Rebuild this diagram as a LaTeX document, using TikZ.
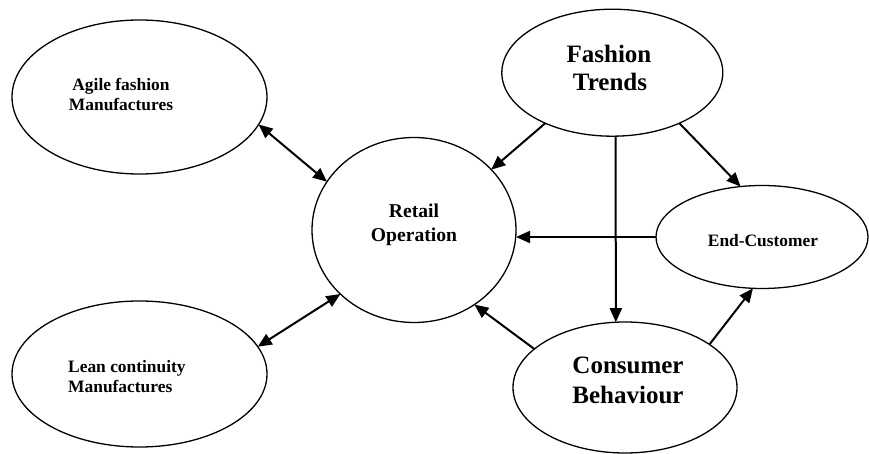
\documentclass[tikz,border=0pt]{standalone}
\usepackage{fontspec}
\setmainfont{Liberation Serif}
\usetikzlibrary{shapes.geometric,arrows.meta}
\begin{document}
\begin{tikzpicture}[x=1pt,y=-1pt,
  oval/.style={ellipse,draw,line width=1.3pt,inner sep=0pt,outer sep=0pt},
  flow/.style={line width=2pt,-{Triangle[length=14pt,width=12pt]}},
  twoway/.style={line width=2pt,{Triangle[length=14pt,width=12pt]}-{Triangle[length=14pt,width=12pt]}},
  small/.style={font=\bfseries\fontsize{17.4}{20}\selectfont,inner sep=0pt},
  mid/.style={font=\bfseries\fontsize{19.6}{23}\selectfont,inner sep=0pt},
  big/.style={font=\bfseries\fontsize{25}{28}\selectfont,inner sep=0pt}]
\useasboundingbox (0,0) rectangle (869,454);

% ovals
\node[oval,minimum width=255pt,minimum height=154pt] (agile)    at (139.5,97)   {};
\node[oval,minimum width=255pt,minimum height=146pt] (lean)     at (139.5,374)  {};
\node[oval,minimum width=204pt,minimum height=185pt] (retail)   at (414,230)    {};
\node[oval,minimum width=221pt,minimum height=127pt] (fashion)  at (612.3,72.7) {};
\node[oval,minimum width=212pt,minimum height=103pt] (endcust)  at (762,237)    {};
\node[oval,minimum width=224pt,minimum height=131pt] (consumer) at (625,387.5)  {};

% labels
\node[small,anchor=base] (agile-a) at (121,91)  {Agile fashion};
\node[small,anchor=base] (agile-b) at (121,111) {Manufactures};
\node[small,anchor=base west] (lean-a) at (68,372) {Lean continuity};
\node[small,anchor=base west] (lean-b) at (68,392) {Manufactures};
\node[mid,anchor=base] (retail-a) at (414,218) {Retail};
\node[mid,anchor=base] (retail-b) at (414,241) {Operation};
\node[big,anchor=base] (fashion-a) at (609,63) {Fashion};
\node[big,anchor=base] (fashion-b) at (610,91) {Trends};
\node[small,anchor=base] (endcust-a) at (763,247) {End-Customer};
\node[big,anchor=base] (consumer-a) at (628,373) {Consumer};
\node[big,anchor=base] (consumer-b) at (628,403) {Behaviour};

% connectors
\draw[twoway] (agile.-13.6) -- (retail.151.4);
\draw[twoway] (lean.13.3) -- (retail.221.6);
\draw[flow] (fashion.217.9) -- (retail.38.1);
\draw[flow] (fashion.-87.6) -- (consumer.98.6);
\draw[flow] (fashion.-37) -- (endcust.113.8);
\draw[flow] (endcust.west) -- (retail.east |- endcust.west);
\draw[flow] (consumer.157) -- (retail.-51.2);
\draw[flow] (consumer.27.6) -- (endcust.260.5);
\end{tikzpicture}
\end{document}
